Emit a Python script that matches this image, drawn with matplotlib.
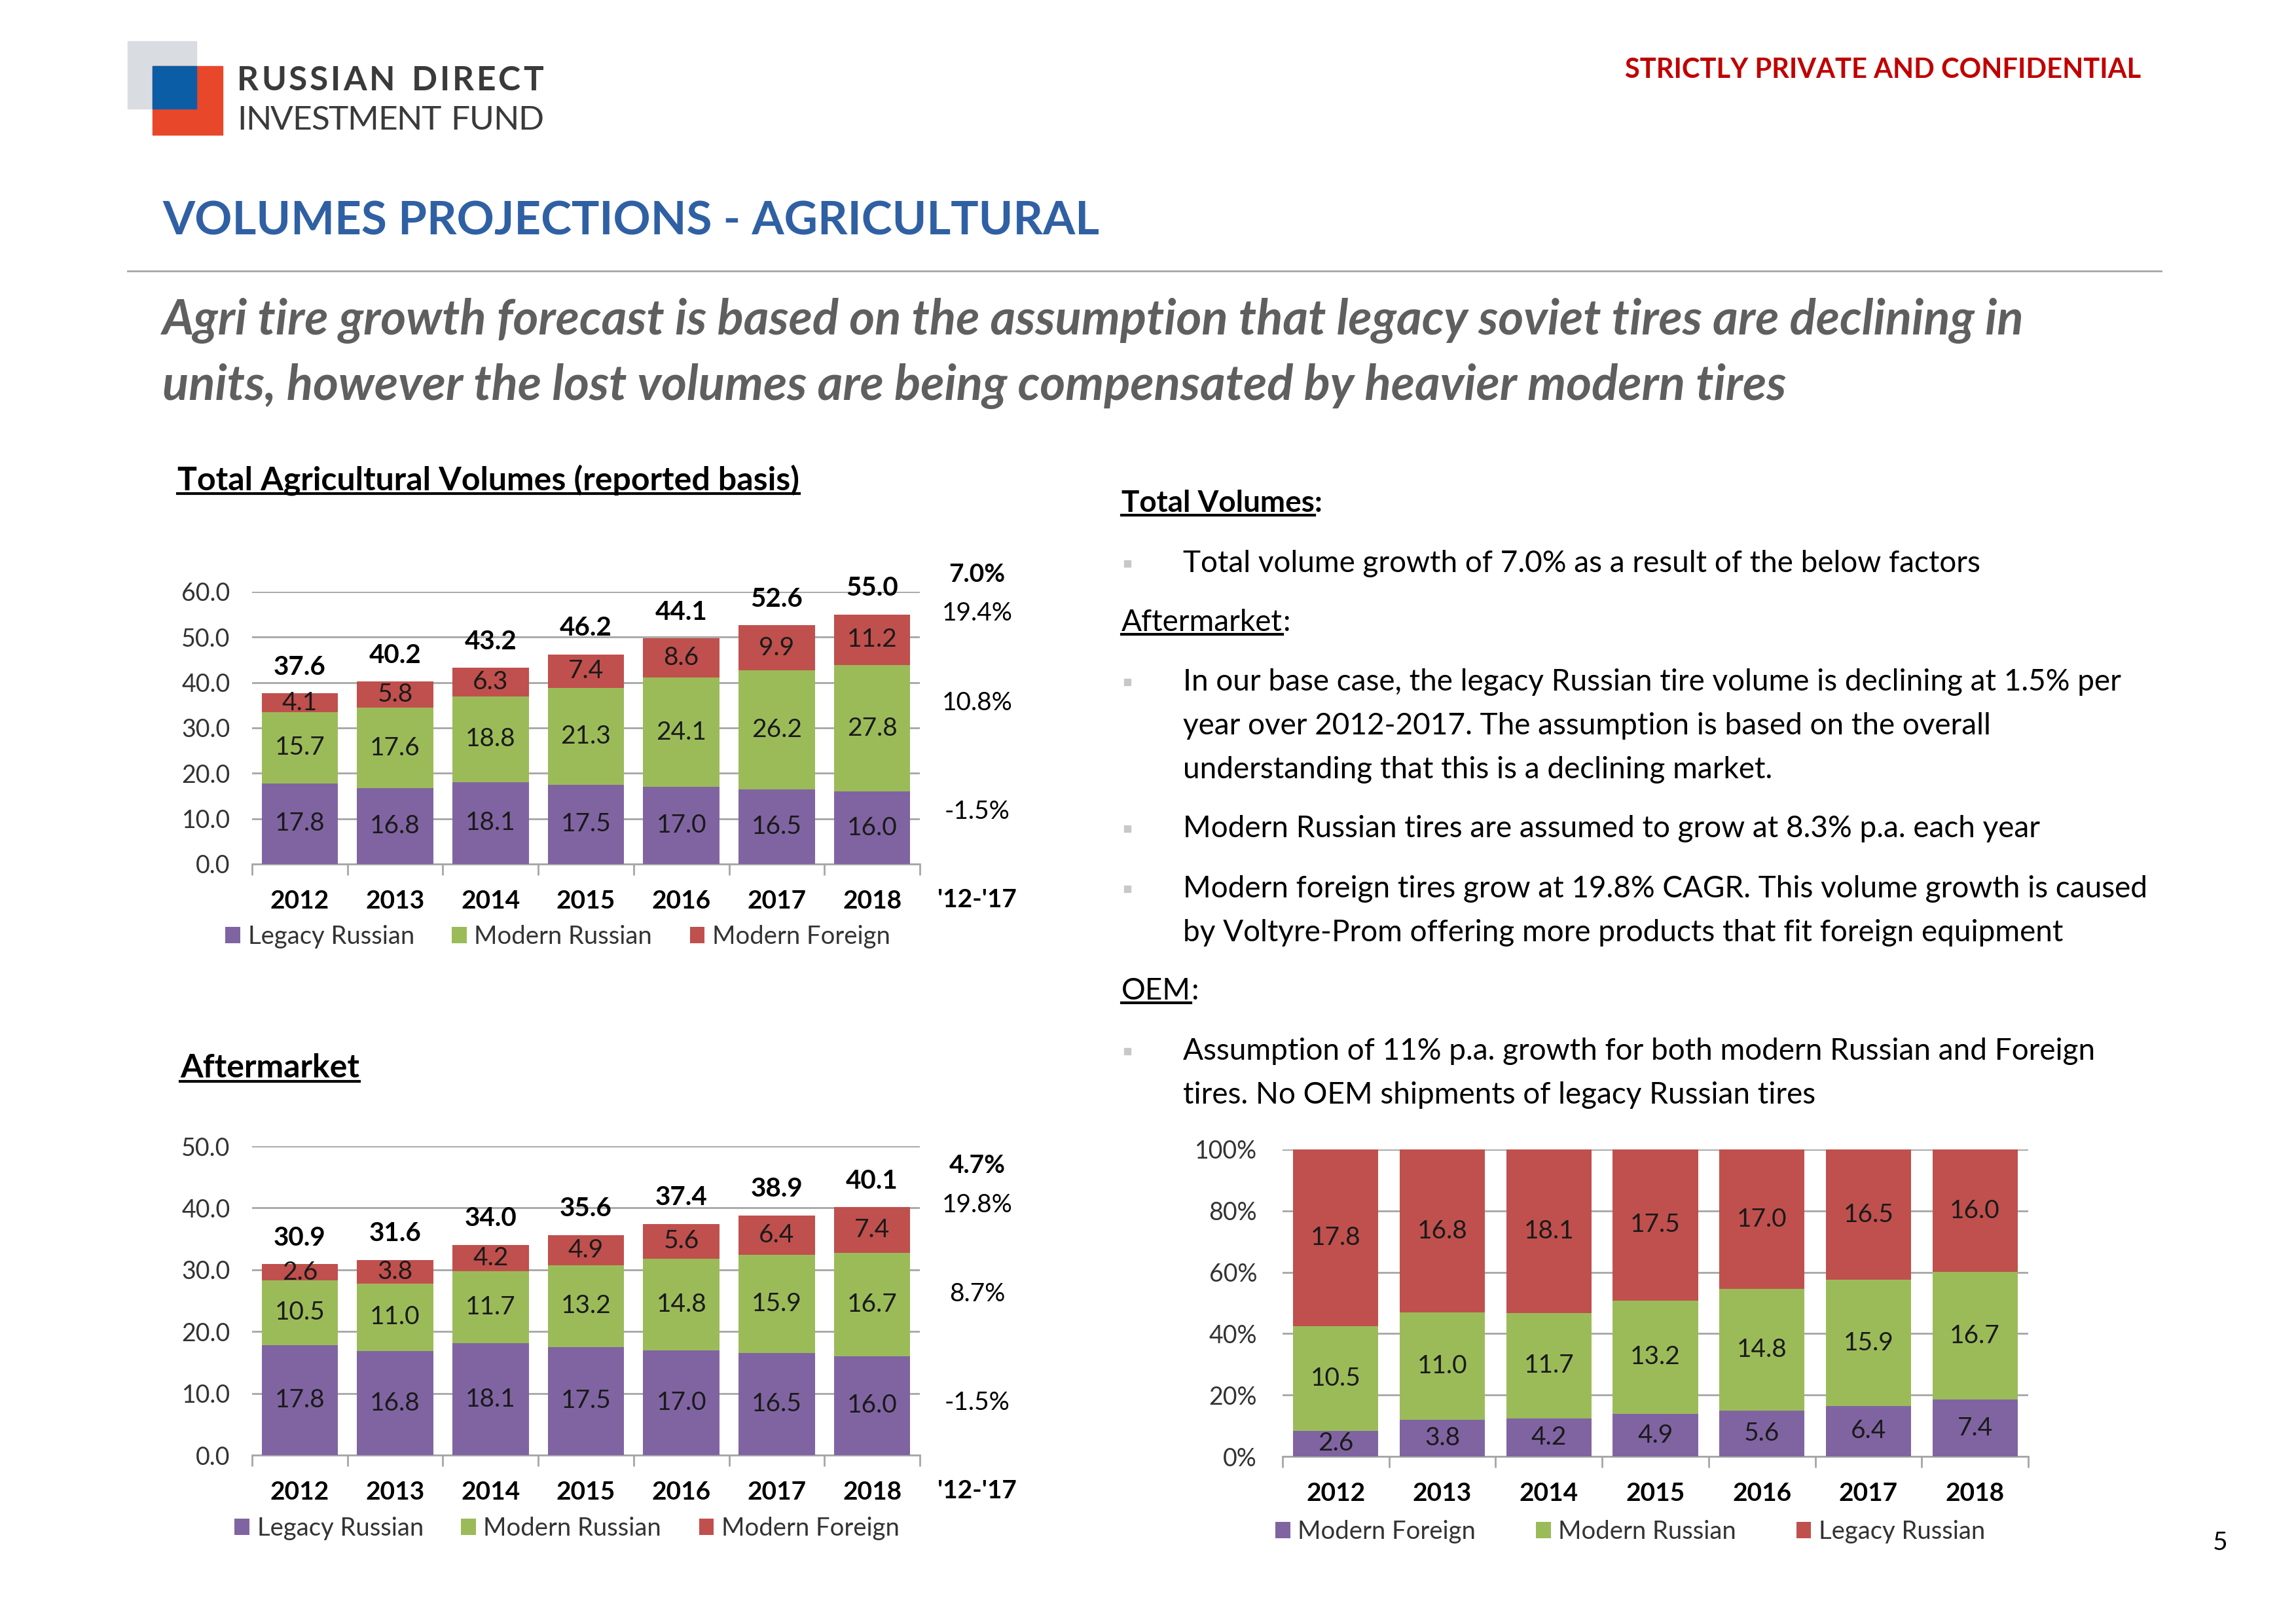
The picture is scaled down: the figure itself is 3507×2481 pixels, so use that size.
import matplotlib
matplotlib.use('Agg')
import matplotlib.pyplot as plt
from matplotlib.patches import Rectangle
from matplotlib.lines import Line2D
import numpy as np

plt.rcParams['font.family'] = ['Lato', 'DejaVu Sans']

years = ['2012', '2013', '2014', '2015', '2016', '2017', '2018']

# Total agricultural volumes (reported basis)
total_legacy = [17.8, 16.8, 18.1, 17.5, 17.0, 16.5, 16.0]
total_modern_ru = [15.7, 17.6, 18.8, 21.3, 24.1, 26.2, 27.8]
total_modern_fr = [4.1, 5.8, 6.3, 7.4, 8.6, 9.9, 11.2]
total_labels = [37.6, 40.2, 43.2, 46.2, 44.1, 52.6, 55.0]
total_cagr = ['7.0%', '19.4%', '10.8%', '-1.5%']

# Aftermarket
after_legacy = [17.8, 16.8, 18.1, 17.5, 17.0, 16.5, 16.0]
after_modern_ru = [10.5, 11.0, 11.7, 13.2, 14.8, 15.9, 16.7]
after_modern_fr = [2.6, 3.8, 4.2, 4.9, 5.6, 6.4, 7.4]
after_labels = [30.9, 31.6, 34.0, 35.6, 37.4, 38.9, 40.1]
after_cagr = ['4.7%', '19.8%', '8.7%', '-1.5%']

# 100% chart (as on the slide)
share_foreign = [2.6, 3.8, 4.2, 4.9, 5.6, 6.4, 7.4]
share_modern_ru = [10.5, 11.0, 11.7, 13.2, 14.8, 15.9, 16.7]
share_legacy = [17.8, 16.8, 18.1, 17.5, 17.0, 16.5, 16.0]

PURPLE = '#8064A2'
GREEN = '#9BBB59'
RED = '#C0504D'
GRID = '#A6A6A6'
FS = 28  # chart text size

W, H = 3507, 2481
fig = plt.figure(figsize=(W / 100, H / 100), dpi=100)
renderer = fig.canvas.get_renderer()


def fx(px):
    return px / W


def fy(py):
    return 1 - py / H


def underlined(x, y, s, suffix='', **kw):
    t = fig.text(fx(x), fy(y), s, **kw)
    bb = t.get_window_extent(renderer=renderer)
    fig.add_artist(Line2D([bb.x0 / W, bb.x1 / W], [(bb.y0 + 3) / H] * 2,
                          color=kw.get('color', 'black'), lw=3, transform=fig.transFigure))
    if suffix:
        fig.text(bb.x1 / W, fy(y), suffix, **kw)
    return t


def tracked(x, y, s, width, **kw):
    # spread the letters over a given width (logo lettering)
    widths = []
    for ch in s:
        t = fig.text(0, 0, ch if ch != ' ' else 'n', **kw)
        widths.append(t.get_window_extent(renderer=renderer).width * (0.6 if ch == ' ' else 1))
        t.remove()
    gap = (width - sum(widths)) / (len(s) - 1)
    pos = x
    for ch, w in zip(s, widths):
        if ch != ' ':
            fig.text(fx(pos), fy(y), ch, **kw)
        pos += w + gap


# ---- header ----
fig.add_artist(Rectangle((fx(195), fy(166)), fx(300) - fx(195), fy(63) - fy(166),
                         color='#D9DCE0', transform=fig.transFigure))
fig.add_artist(Rectangle((fx(233), fy(206)), fx(340) - fx(233), fy(101) - fy(206),
                         color='#E8472A', transform=fig.transFigure))
fig.add_artist(Rectangle((fx(233), fy(166)), fx(300) - fx(233), fy(101) - fy(166),
                         color='#0B5EA6', transform=fig.transFigure))
tracked(362, 123, 'RUSSIAN DIRECT', 468, fontsize=37, fontweight='bold', color='#3A3A3A', va='center')
tracked(362, 184, 'INVESTMENT FUND', 468, fontsize=37, color='#3A3A3A', va='center')

fig.text(fx(3270), fy(107), 'STRICTLY PRIVATE AND CONFIDENTIAL', fontsize=30, fontweight='bold',
         color='#C00000', ha='right', va='center')
fig.text(fx(248), fy(338), 'VOLUMES PROJECTIONS - AGRICULTURAL', fontsize=51, fontweight='bold',
         color='#3060A4', va='center')
fig.add_artist(Line2D([fx(195), fx(3301)], [fy(414)] * 2, color=GRID, lw=2, transform=fig.transFigure))
fig.text(fx(248), fy(490), 'Agri tire growth forecast is based on the assumption that legacy soviet tires are declining in',
         fontsize=53.6, fontweight='bold', style='italic', color='#5F5F5F', va='center')
fig.text(fx(248), fy(590), 'units, however the lost volumes are being compensated by heavier modern tires',
         fontsize=53.6, fontweight='bold', style='italic', color='#5F5F5F', va='center')

underlined(271, 733, 'Total Agricultural Volumes (reported basis)', fontsize=36, fontweight='bold', va='center')
underlined(275, 1632, 'Aftermarket', fontsize=36, fontweight='bold', va='center')

# ---- right-hand text ----
BODY = dict(fontsize=33, va='center', color='black')
underlined(1713, 769, 'Total Volumes', suffix=':', fontweight='bold', **BODY)
underlined(1713, 951, 'Aftermarket', suffix=':', **BODY)
underlined(1713, 1514, 'OEM', suffix=':', **BODY)

body_lines = [
    (861, True, 'Total volume growth of 7.0% as a result of the below factors'),
    (1042, True, 'In our base case, the legacy Russian tire volume is declining at 1.5% per'),
    (1109, False, 'year over 2012-2017. The assumption is based on the overall'),
    (1176, False, 'understanding that this is a declining market.'),
    (1266, True, 'Modern Russian tires are assumed to grow at 8.3% p.a. each year'),
    (1358, True, 'Modern foreign tires grow at 19.8% CAGR. This volume growth is caused'),
    (1425, False, 'by Voltyre-Prom offering more products that fit foreign equipment'),
    (1606, True, 'Assumption of 11% p.a. growth for both modern Russian and Foreign'),
    (1673, False, 'tires. No OEM shipments of legacy Russian tires'),
]
for ypx, bullet, s in body_lines:
    if bullet:
        fig.add_artist(Line2D([fx(1722)], [fy(ypx)], marker='s', ms=7, color='#C8C8C8',
                              transform=fig.transFigure))
    fig.text(fx(1807), fy(ypx), s, **BODY)

fig.text(fx(3391), fy(2357), '5', fontsize=28, va='center', ha='center')


# ---- charts ----
def style_axes(ax, ymax, step, fmt):
    x = np.arange(len(years))
    ax.set_xlim(-0.5, len(years) - 0.5)
    ax.set_ylim(0, ymax)
    ax.set_yticks(np.arange(0, ymax + step / 2, step))
    ax.yaxis.set_major_formatter(fmt)
    ax.grid(axis='y', color=GRID, lw=2, zorder=0)
    ax.set_axisbelow(True)
    for s in ['left', 'top', 'right']:
        ax.spines[s].set_visible(False)
    ax.spines['bottom'].set_color(GRID)
    ax.spines['bottom'].set_linewidth(2)
    ax.set_xticks(x, years)
    for lab in ax.get_xticklabels():
        lab.set_fontweight('bold')
    ax.set_xticks(np.arange(-0.5, len(years)), minor=True)
    ax.tick_params(axis='x', which='major', length=0, labelsize=FS, pad=28)
    ax.tick_params(axis='x', which='minor', length=12, width=2, color=GRID)
    ax.tick_params(axis='y', length=0, labelsize=FS - 1, pad=24, labelcolor='#333333')


def stacked(ax, series, colors, names):
    x = np.arange(len(years))
    bottom = np.zeros(len(years))
    handles = []
    for vals, c, n in zip(series, colors, names):
        bars = ax.bar(x, vals, 0.8, bottom=bottom, color=c, zorder=3, label=n)
        ax.bar_label(bars, labels=[f'{v:.1f}' for v in vals], label_type='center',
                     fontsize=FS, color='#1A1A1A')
        bottom = bottom + np.array(vals)
        handles.append(bars)
    return bottom, handles


def cagr_column(ax, labels, ys):
    for i, (s, y) in enumerate(zip(labels, ys)):
        ax.text(7.1, y, s, ha='center', va='center', fontsize=FS, clip_on=False,
                fontweight='bold' if i == 0 else 'normal')
    ax.annotate("'12-'17", (7.1, 0), xytext=(0, -39), textcoords='offset points',
                ha='center', va='center', fontsize=FS, fontweight='bold', annotation_clip=False)


def legend(handles, names, cx, cy, spacing):
    fig.legend(handles, names, loc='center', bbox_to_anchor=(fx(cx), fy(cy)), ncol=3,
               frameon=False, fontsize=FS - 0.5, handlelength=0.6, handleheight=0.6,
               handletextpad=0.3, columnspacing=spacing, labelcolor='#333333')


one_dec = matplotlib.ticker.FormatStrFormatter('%.1f')
names = ['Legacy Russian', 'Modern Russian', 'Modern Foreign']

# Total volumes
ax1 = fig.add_axes([fx(385), fy(1320), fx(1405) - fx(385), fy(904) - fy(1320)])
style_axes(ax1, 60, 10, one_dec)
tops, h1 = stacked(ax1, [total_legacy, total_modern_ru, total_modern_fr], [PURPLE, GREEN, RED], names)
for i, (t, v) in enumerate(zip(tops, total_labels)):
    ax1.annotate(f'{v:.1f}', (i, t), xytext=(0, 29), textcoords='offset points', ha='center',
                 va='center', fontsize=FS + 1, fontweight='bold', annotation_clip=False)
cagr_column(ax1, total_cagr, [63.8, 55.2, 35.5, 11.6])
legend(h1, names, 852, 1431, 1.5)

# Aftermarket
ax2 = fig.add_axes([fx(385), fy(2223), fx(1405) - fx(385), fy(1751) - fy(2223)])
style_axes(ax2, 50, 10, one_dec)
tops, h2 = stacked(ax2, [after_legacy, after_modern_ru, after_modern_fr], [PURPLE, GREEN, RED], names)
for i, (t, v) in enumerate(zip(tops, after_labels)):
    ax2.annotate(f'{v:.1f}', (i, t), xytext=(0, 29), textcoords='offset points', ha='center',
                 va='center', fontsize=FS + 1, fontweight='bold', annotation_clip=False)
cagr_column(ax2, after_cagr, [46.9, 40.5, 26.1, 8.5])
legend(h2, names, 866, 2335, 1.5)

# 100% stacked
ax3 = fig.add_axes([fx(1959), fy(2225), fx(3098) - fx(1959), fy(1756) - fy(2225)])
style_axes(ax3, 1.0, 0.2, matplotlib.ticker.PercentFormatter(1.0, decimals=0))
raw = np.array([share_foreign, share_modern_ru, share_legacy])
shares = raw / raw.sum(axis=0)
x = np.arange(len(years))
bottom = np.zeros(len(years))
h3 = []
for vals, sh, c in zip(raw, shares, [PURPLE, GREEN, RED]):
    bars = ax3.bar(x, sh, 0.8, bottom=bottom, color=c, zorder=3)
    ax3.bar_label(bars, labels=[f'{v:.1f}' for v in vals], label_type='center',
                  fontsize=FS, color='#1A1A1A')
    bottom = bottom + sh
    h3.append(bars)
ax3.tick_params(axis='y', pad=28)
legend(h3, ['Modern Foreign', 'Modern Russian', 'Legacy Russian'], 2490, 2340, 2.4)

fig.savefig('out.png', dpi=100)
